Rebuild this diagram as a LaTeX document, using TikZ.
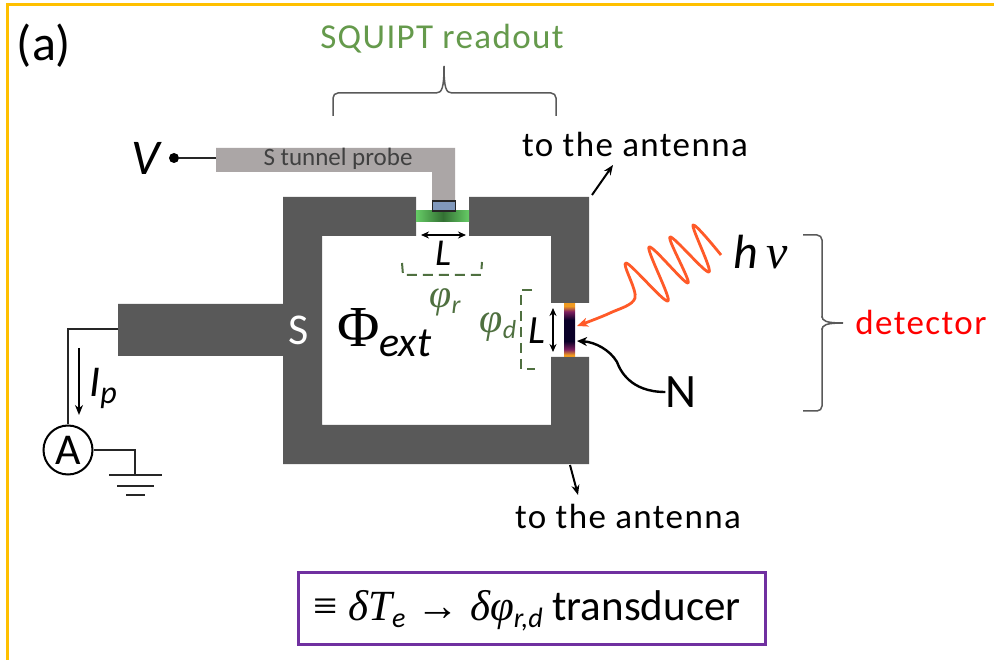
\documentclass[tikz,border=0pt]{standalone}
\usepackage{fontspec}
\setmainfont{Carlito}
\newfontfamily\spaced[LetterSpace=4]{Carlito}
\newfontfamily\serifgr{Liberation Serif}
\usetikzlibrary{arrows.meta,decorations.pathreplacing}
\definecolor{frameY}{HTML}{FFC000}
\definecolor{darkS}{HTML}{595959}
\definecolor{probeG}{HTML}{ABA6A6}
\definecolor{greenT}{HTML}{659A4C}
\definecolor{greenD}{HTML}{4F7040}
\definecolor{boxP}{HTML}{7030A0}
\definecolor{waveO}{HTML}{FF5A28}
\definecolor{blueP}{HTML}{8098BC}
\definecolor{jOrange}{HTML}{F09A20}
\definecolor{jPurple}{HTML}{802060}
\definecolor{jNavy}{HTML}{0A0028}
\pgfdeclareverticalshading{junct}{100bp}{color(0bp)=(jOrange); color(25bp)=(jOrange); color(27bp)=(jOrange); color(32bp)=(jPurple); color(40bp)=(jNavy); color(60bp)=(jNavy); color(68bp)=(jPurple); color(73bp)=(jOrange); color(100bp)=(jOrange)}
\tikzset{
  txt/.style={inner sep=0pt,font=\fontsize{#1}{#1}\selectfont},
  wire/.style={draw=black!85,line width=2pt},
  arrowthin/.style={black,line width=2pt,-{Stealth[length=10pt,width=8pt]}},
  dbl/.style={black,line width=1.8pt,{Stealth[length=8pt,width=7pt]}-{Stealth[length=8pt,width=7pt]}},
  brace/.style={draw=black!65,line width=1.5pt,rounded corners=5pt},
  bracket/.style={draw=greenD,line width=2pt,dash pattern=on 10pt off 6pt},
}
\begin{document}
\begin{tikzpicture}[x=1pt,y=-1pt]
\useasboundingbox (0,0) rectangle (994,660);
\fill[white] (0,0) rectangle (994,660);
% frame
\draw[frameY,line width=3pt] (7,660) -- (7,5) -- (994,5);
% superconducting loop
\fill[darkS] (283,197) -- (416,197) -- (416,236) -- (322,236) -- (322,425) -- (551,425) -- (551,357) -- (589,357) -- (589,464) -- (283,464) -- (283,356) -- (118,356) -- (118,304) -- (283,304) -- cycle;
\fill[darkS] (469,197) -- (589,197) -- (589,303) -- (551,303) -- (551,236) -- (469,236) -- cycle;
% probe
\fill[probeG] (216,148) -- (455,148) -- (455,202) -- (432,202) -- (432,172) -- (216,172) -- cycle;
\fill[left color=green!50!gray!80,right color=green!30!black!80] (416,211) rectangle (443,222);
\fill[left color=green!30!black!80,right color=green!50!gray!80] (443,211) rectangle (469,222);
\node[draw=black!85,fill=blueP,line width=1.2pt,minimum width=23pt,minimum height=10pt,inner sep=0pt] (tunnel) at (444,206) {};
% junction
\shade[shading=junct] (564,304) rectangle (575,357);
% dashed brackets
\draw[bracket] (402,263) -- (403,275) -- (481,275) -- (482,262);
\draw[bracket] (532,290) -- (521,290) -- (521,369) -- (535,369);
% length arrows
\coordinate (La) at (421,235); \coordinate (Lb) at (466,235);
\draw[dbl] (La) -- (Lb);
\coordinate (Lc) at (553,308); \coordinate (Ld) at (553,352);
\draw[dbl] (Lc) -- (Ld);
% labels
\node[txt=50] (a) at (44,46) {(a)};
\node[txt=35,text=greenT] (squipt) at (442,39) {{\spaced SQUIPT readout}};
\node[txt=25,text=black!75] (probe) at (338,159) {S tunnel probe};
\node[txt=35] (antA) at (635,144) {{\spaced to the antenna}};
\node[txt=35] (antB) at (628,516) {{\spaced to the antenna}};
\node[txt=44,text=white] (S) at (299,330) {S};
\node[txt=48] (N) at (681,392) {N};
\node[txt=35,text=red] (det) at (921,322) {{\spaced detector}};
\node[txt=50] (V) at (146,158) {\itshape V};
\node[txt=38] (L1) at (443,253) {\itshape L};
\node[txt=40] (L2) at (537,331) {\itshape L};
\node[txt=40,text=greenD] (pr) at (445,302) {{\serifgr\itshape φ}\raisebox{-6pt}{\fontsize{26}{26}\selectfont\itshape r}};
\node[txt=42,text=greenD] (pd) at (498,327) {{\serifgr\itshape φ}\raisebox{-6pt}{\fontsize{26}{26}\selectfont\itshape d}};
\node[txt=58,anchor=west] (phi) at (337,333) {{\serifgr Φ}\raisebox{-10pt}{\fontsize{42}{42}\selectfont\itshape ext}};
\node[txt=48,anchor=west] (hnu) at (733,252) {\itshape h\hspace{9pt}{\serifgr ν}};
\node[txt=44] (Ip) at (103,388) {\itshape I\raisebox{-7pt}{\fontsize{32}{32}\selectfont p}};
% V lead
\node[circle,fill=black,inner sep=0pt,minimum size=10pt] (Vdot) at (174,158) {};
\coordinate (probeL) at (216,158);
\draw[wire] (Vdot) -- (probeL);
% ammeter
\node[circle,draw=black,line width=2pt,minimum size=49pt,inner sep=0pt,font=\fontsize{44}{44}\selectfont] (A) at (68,450) {A};
\coordinate (stub) at (118,329);
\draw[wire] (stub) -- (68,329) -- (A.north);
\coordinate (gnd) at (135,475);
\draw[wire] (A.east) -- (135,450) -- (gnd);
\draw[wire] (109,475) -- (gnd) -- (162,475);
\draw[wire] (117,486) -- (154,486);
\draw[wire] (126,495) -- (145,495);
\coordinate (Ia) at (79,348); \coordinate (Ib) at (79,415);
\draw[arrowthin] (Ia) -- (Ib);
% antenna arrows
\coordinate (aa) at (592,195); \coordinate (ab) at (613,165);
\draw[arrowthin] (aa) -- (ab);
\coordinate (ac) at (570,465); \coordinate (ad) at (578,495);
\draw[arrowthin] (ac) -- (ad);
% photon
\draw[waveO,line width=2.8pt,line join=round,-{Stealth[length=11pt,width=9pt,inset=3pt]}]
  plot[smooth,tension=0.55] coordinates {(721,255) (693,225) (709,272) (670,237) (688,283) (649,247) (668,301) (626,263) (635,298) (610,313) (577,326)};
% N pointer
\coordinate (Nend) at (577,341);
\draw[black,line width=2.4pt,-{Stealth[length=10pt,width=9pt,inset=3pt]}] (N.west) .. controls (630,392) and (620,370) .. (617,362) .. controls (610,350) and (595,342) .. (Nend);
% braces
\draw[brace] (333,116) -- (333,93) -- (436,93) ;
\draw[brace] (556,116) -- (556,93) -- (452,93);
\draw[draw=black!65,line width=1.5pt] (436,93) .. controls (442,93) and (444,88) .. (444,66) .. controls (444,88) and (446,93) .. (452,93);
\draw[brace] (803,235) -- (822,235) -- (822,318);
\draw[brace] (803,411) -- (822,411) -- (822,328);
\draw[draw=black!65,line width=1.5pt] (822,316) .. controls (822,321) and (826,323) .. (843,323) .. controls (826,323) and (822,325) .. (822,330);
% caption
\node[draw=boxP,line width=3pt,minimum width=467pt,minimum height=72pt,inner sep=0pt] (cap) at (532,608.5) {};
\node[txt=43] (captxt) at (527,611)
 {{\serifgr ≡ \itshape δT}\raisebox{-7pt}{\fontsize{28}{28}\selectfont\itshape e}{\serifgr\ → \itshape δφ}\raisebox{-7pt}{\fontsize{28}{28}\selectfont\itshape r,d}\ transducer};
\end{tikzpicture}
\end{document}
